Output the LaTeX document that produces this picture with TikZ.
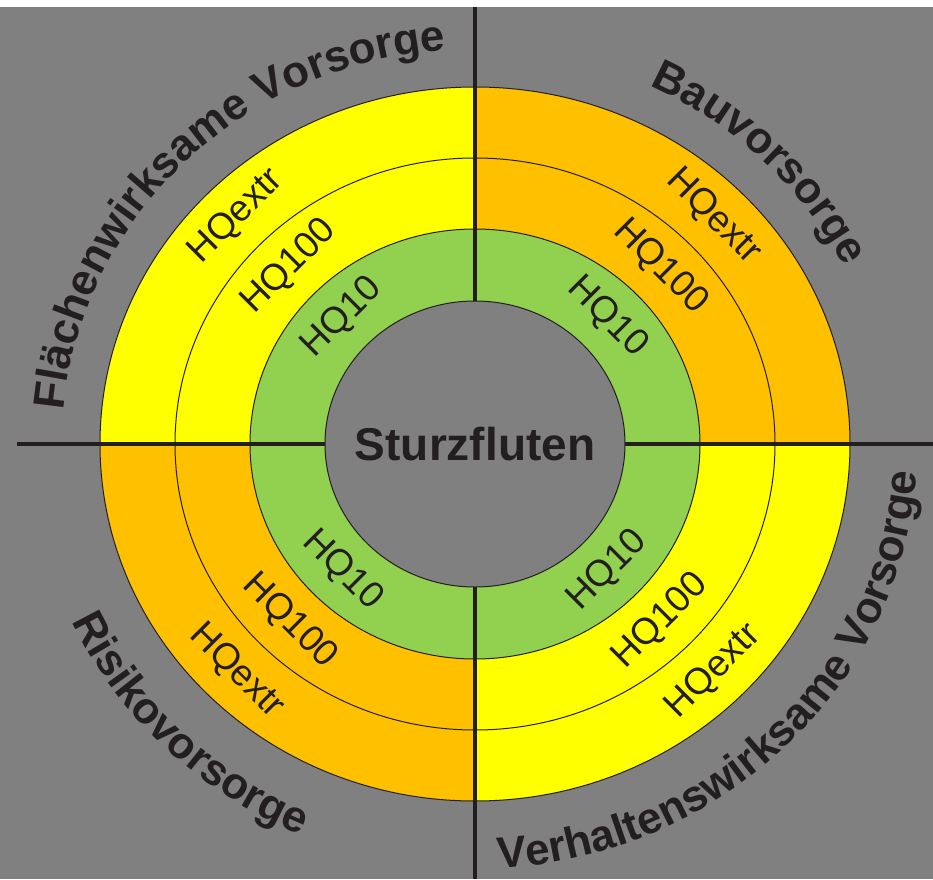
\documentclass[tikz,border=0pt]{standalone}
\usepackage{xcolor}
\usepackage{fontspec}
\setmainfont{Liberation Sans}
\usepackage{tikz}
\usetikzlibrary{decorations.text}
\definecolor{floodgray}{RGB}{128, 128, 128}
\definecolor{floodyellow}{RGB}{255, 255, 0}
\definecolor{floodorange}{RGB}{255, 192, 0}
\definecolor{floodgreen}{RGB}{146, 208, 80}
\definecolor{floodink}{RGB}{35, 31, 32}
\newcommand{\sectorfont}{\fontsize{44}{48}\selectfont\bfseries}

\begin{document}
\begin{tikzpicture}[x=1pt, y=1pt,
    hqlabel/.style={font=\fontsize{37}{40}\selectfont, text=floodink, inner sep=0pt},
    ringline/.style={draw=floodink, line width=1pt},
    crossline/.style={draw=floodink, line width=3.2pt}]
    \fill[white] (-475,-435) rectangle (458,444);
    \fill[floodgray] (-475,-435) rectangle (458,437);
    \useasboundingbox (-475,-435) rectangle (458,444);

    \fill[floodorange] (0,0) -- (375,0) arc[start angle=0, end angle=90, x radius=375pt, y radius=357pt] -- cycle;
    \fill[floodyellow] (0,0) -- (0,357) arc[start angle=90, end angle=180, x radius=375pt, y radius=357pt] -- cycle;
    \fill[floodorange] (0,0) -- (-375,0) arc[start angle=180, end angle=270, x radius=375pt, y radius=357pt] -- cycle;
    \fill[floodyellow] (0,0) -- (0,-357) arc[start angle=270, end angle=360, x radius=375pt, y radius=357pt] -- cycle;
    \fill[floodgreen] (0,0) ellipse [x radius=225pt, y radius=215pt];
    \fill[floodgray] (0,0) ellipse [x radius=150pt, y radius=143pt];
    \foreach \rx/\ry in {375/357, 300/286, 225/215, 150/143}
        \draw[ringline] (0,0) ellipse [x radius=\rx pt, y radius=\ry pt];

    \coordinate (W) at (-458,0);
    \coordinate (E) at (458,0);
    \coordinate (N) at (0,437);
    \coordinate (S) at (0,-435);
    \coordinate (coreW) at (-150,0);
    \coordinate (coreE) at (150,0);
    \coordinate (coreN) at (0,143);
    \coordinate (coreS) at (0,-143);
    \draw[crossline] (W) -- (coreW);
    \draw[crossline] (coreE) -- (E);
    \draw[crossline] (N) -- (coreN);
    \draw[crossline] (coreS) -- (S);

    \node[font=\fontsize{46}{50}\selectfont\bfseries, text=floodink, inner sep=0pt] (core) at (0,0) {Sturzfluten};

    \node[hqlabel, rotate=45] (tlextr) at (135:337.5pt and 321.5pt) {HQextr};
    \node[hqlabel, rotate=45] (tlhundred) at (135:262.5pt and 250.5pt) {HQ100};
    \node[hqlabel, rotate=45] (tlten) at (135:187.5pt and 179pt) {HQ10};
    \node[hqlabel, rotate=-45] (trextr) at (45:337.5pt and 321.5pt) {HQextr};
    \node[hqlabel, rotate=-45] (trhundred) at (45:262.5pt and 250.5pt) {HQ100};
    \node[hqlabel, rotate=-45] (trten) at (45:187.5pt and 179pt) {HQ10};
    \node[hqlabel, rotate=-45] (blextr) at (225:337.5pt and 321.5pt) {HQextr};
    \node[hqlabel, rotate=-45] (blhundred) at (225:262.5pt and 250.5pt) {HQ100};
    \node[hqlabel, rotate=-45] (blten) at (225:187.5pt and 179pt) {HQ10};
    \node[hqlabel, rotate=45] (brextr) at (315:337.5pt and 321.5pt) {HQextr};
    \node[hqlabel, rotate=45] (brhundred) at (315:262.5pt and 250.5pt) {HQ100};
    \node[hqlabel, rotate=45] (brten) at (315:187.5pt and 179pt) {HQ10};

    \path[decorate, decoration={text along path, text align=center, text color=floodink,
        text={|\sectorfont|Flächenwirksame Vorsorge}}]
        (195:413pt and 395pt) arc[start angle=195, end angle=75, x radius=413pt, y radius=395pt];
    \path[decorate, decoration={text along path, text align=center, text color=floodink,
        text={|\sectorfont|Bauvorsorge}}]
        (105:413pt and 395pt) arc[start angle=105, end angle=-15, x radius=413pt, y radius=395pt];
    \path[decorate, decoration={text along path, text align=center, text color=floodink,
        text={|\sectorfont|Risikovorsorge}}]
        (165:443pt and 425pt) arc[start angle=165, end angle=285, x radius=443pt, y radius=425pt];
    \path[decorate, decoration={text along path, text align=center, text color=floodink,
        text={|\sectorfont|Verhaltenswirksame Vorsorge}}]
        (255:443pt and 425pt) arc[start angle=255, end angle=375, x radius=443pt, y radius=425pt];
\end{tikzpicture}
\end{document}
